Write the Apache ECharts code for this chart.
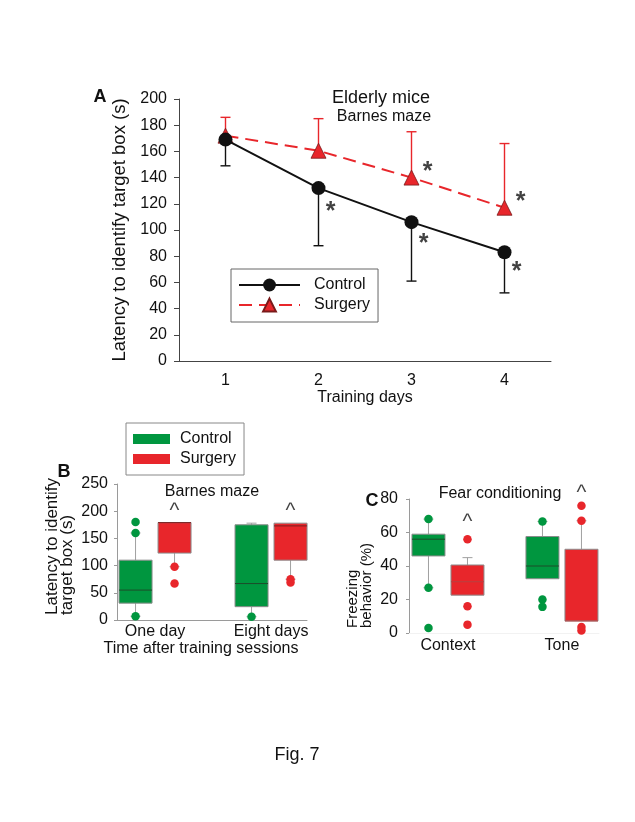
<!DOCTYPE html>
<html><head><meta charset="utf-8">
<script src="https://cdn.jsdelivr.net/npm/echarts@6/dist/echarts.min.js"></script>
<style>html,body{margin:0;padding:0;background:#fff}#c{width:635px;height:822px}</style>
</head><body><div id="c"></div>
<script>
const FONT = '"Liberation Sans", Arial, Helvetica, sans-serif';
const RED = '#e8262b', GREEN = '#00963f', INK = '#111';

// ---- Panel A: Barnes maze, training days ----
const trainingDays = ['1', '2', '3', '4'];
const controlMean = [169, 132, 106, 83];
const controlLower = [149, 88, 61, 52];
const surgeryMean = [172, 160.5, 140, 117];
const surgeryUpper = [186, 185, 175, 166];
const controlStars = [[1, 117], [2, 92], [3, 71]];
const surgeryStars = [[2, 147], [3, 124]];

// ---- Panel B: Barnes maze, time after training ----
const barnesGroups = ['One day', 'Eight days'];
// [group, lowWhisker, q1, median, q3, highWhisker]
const barnesControlBox = [[1, 7, 31, 55, 110, 160], [2, 6, 24.5, 67, 175, 178]];
const barnesSurgeryBox = [[1, 98, 123, 179, 179, 179], [2, 75, 110, 173, 178, 178]];
const barnesControlPts = [[1, 180], [1, 160], [1, 7], [2, 6]];
const barnesSurgeryPts = [[1, 98], [1, 67], [2, 75], [2, 69]];
const barnesCarets = [[1, 206], [2, 206]];

// ---- Panel C: Fear conditioning ----
const fearGroups = ['Context', 'Tone'];
const fearControlBox = [[1, 27, 46, 56, 59, 68], [2, 32.4, 32.4, 40, 57.6, 66.6]];
const fearSurgeryBox = [[1, 22.6, 22.6, 30.6, 40.6, 45], [2, 7.2, 7.2, 7.2, 50, 67]];
const fearControlPts = [[1, 68], [1, 27], [1, 3], [2, 66.6], [2, 20], [2, 15.6]];
const fearSurgeryPts = [[1, 56], [1, 16], [1, 5], [2, 76], [2, 67], [2, 3.6], [2, 1.5]];
const fearCarets = [[1, 68], [2, 85]];

const GROUP_OFFSET = 19.5; // px from group centre to each box centre
const A_PREFIX = 'A: ';    // panel A series ids (prefix hidden in its legend)

function errRender(color) {
  return function (params, api) {
    const i = api.value(0);
    const a = api.coord([i, api.value(1)]);
    const b = api.coord([i, api.value(2)]);
    const st = { stroke: color, lineWidth: 1.4 };
    return { type: 'group', children: [
      { type: 'line', shape: { x1: a[0], y1: a[1], x2: b[0], y2: b[1] }, style: st },
      { type: 'line', shape: { x1: b[0] - 5, y1: b[1], x2: b[0] + 5, y2: b[1] }, style: st }
    ] };
  };
}

function boxRender(offset, fill, medColor) {
  return function (params, api) {
    const pos = api.value(0);
    const cx = api.coord([pos, 0])[0] + offset;
    const y = v => api.coord([pos, v])[1];
    const lo = api.value(1), q1 = api.value(2), med = api.value(3), q3 = api.value(4), hi = api.value(5);
    const hw = 16.5, cw = 5;
    const ls = { stroke: '#a0a0a0', lineWidth: 1 };
    const ch = [];
    if (hi > q3) {
      ch.push({ type: 'line', shape: { x1: cx, y1: y(q3), x2: cx, y2: y(hi) }, style: ls });
      ch.push({ type: 'line', shape: { x1: cx - cw, y1: y(hi), x2: cx + cw, y2: y(hi) }, style: ls });
    }
    if (lo < q1) {
      ch.push({ type: 'line', shape: { x1: cx, y1: y(q1), x2: cx, y2: y(lo) }, style: ls });
      ch.push({ type: 'line', shape: { x1: cx - cw, y1: y(lo), x2: cx + cw, y2: y(lo) }, style: ls });
    }
    ch.push({ type: 'rect', shape: { x: cx - hw, y: y(q3), width: 2 * hw, height: y(q1) - y(q3) },
      style: { fill: fill, stroke: '#8c8c8c', lineWidth: 1 } });
    ch.push({ type: 'line', shape: { x1: cx - hw, y1: y(med), x2: cx + hw, y2: y(med) },
      style: { stroke: medColor, lineWidth: 1 } });
    return { type: 'group', children: ch };
  };
}

function boxSeries(name, data, gi, offset, fill, med) {
  return { name: name, type: 'custom', xAxisIndex: gi, yAxisIndex: gi, data: data,
    itemStyle: { color: fill },
    encode: { x: 0, y: [1, 2, 3, 4, 5] }, renderItem: boxRender(offset, fill, med), z: 2, silent: true };
}
function ptSeries(data, gi, offset, color) {
  return { type: 'scatter', xAxisIndex: gi, yAxisIndex: gi, data: data, symbol: 'circle', symbolSize: 8.5,
    symbolOffset: [offset, 0], itemStyle: { color: color, opacity: 1 }, z: 4, silent: true };
}
function textMarks(data, gi, text, offset, size, bold) {
  return { type: 'scatter', xAxisIndex: gi, yAxisIndex: gi, data: data, symbolSize: 1, clip: false,
    itemStyle: { color: 'rgba(0,0,0,0)' }, z: 5, silent: true,
    label: { show: true, formatter: text, position: 'inside', offset: offset, color: INK,
      fontFamily: FONT, fontSize: size, fontWeight: bold ? 'bold' : 'normal' } };
}

const greyAxis = { lineStyle: { color: '#9a9a9a', width: 1 } };
const lbl = { fontFamily: FONT, fontSize: 16, color: INK };

const option = {
  backgroundColor: '#fff',
  animation: false,
  textStyle: { fontFamily: FONT },
  grid: [
    { left: 179, top: 99, width: 372, height: 262 },
    { left: 117, top: 484, width: 190, height: 136 },
    { left: 409, top: 499, width: 190, height: 134 }
  ],
  legend: [
    { left: 231, top: 269, orient: 'vertical', itemWidth: 61, itemHeight: 16, itemGap: 4,
      padding: [8, 8, 9, 7], borderColor: '#666', borderWidth: 1, selectedMode: false,
      formatter: name => name.replace(A_PREFIX, ''),
      textStyle: { fontFamily: FONT, fontSize: 16, color: INK, padding: [0, 0, 0, 9] },
      data: [A_PREFIX + 'Control', A_PREFIX + 'Surgery'] },
    { left: 126, top: 423, orient: 'vertical', itemWidth: 37, itemHeight: 10, itemGap: 2,
      padding: [7, 8, 7, 7], borderColor: '#888', borderWidth: 1, selectedMode: false,
      icon: 'rect', itemStyle: { borderWidth: 0, decal: 'none' },
      textStyle: { fontFamily: FONT, fontSize: 16, color: INK, padding: [0, 0, 0, 5], lineHeight: 18 },
      data: ['Control', 'Surgery'] }
  ],
  xAxis: [
    { gridIndex: 0, type: 'category', data: trainingDays, boundaryGap: true,
      axisLine: { lineStyle: { color: '#444', width: 1 } },
      axisTick: { alignWithLabel: true, length: 5, lineStyle: { color: '#444' } },
      axisLabel: Object.assign({ margin: 12 }, lbl),
      name: 'Training days', nameLocation: 'middle', nameGap: 28, nameTextStyle: lbl },
    { gridIndex: 1, type: 'value', min: 0.672, max: 2.31, splitLine: { show: false },
      axisLine: greyAxis, axisTick: { show: false },
      axisLabel: Object.assign({ margin: 4, customValues: [1, 2],
        formatter: v => barnesGroups[Math.round(v) - 1] || '' }, lbl),
      name: 'Time after training sessions', nameLocation: 'middle', nameGap: 21,
      nameTextStyle: Object.assign({ padding: [0, 22, 0, 0] }, lbl) },
    { gridIndex: 2, type: 'value', min: 0.658, max: 2.325, splitLine: { show: false },
      axisLine: { lineStyle: { color: '#f2f2f2', width: 1 } }, axisTick: { show: false },
      axisLabel: Object.assign({ margin: 5, customValues: [1, 2],
        formatter: v => fearGroups[Math.round(v) - 1] || '' }, lbl) }
  ],
  yAxis: [
    { gridIndex: 0, type: 'value', min: 0, max: 200, interval: 20, splitLine: { show: false },
      axisLine: { show: true, lineStyle: { color: '#444', width: 1 } },
      axisTick: { show: true, length: 5, lineStyle: { color: '#444' } },
      axisLabel: Object.assign({ margin: 12 }, lbl),
      name: 'Latency to identify target box (s)', nameLocation: 'middle', nameGap: 41,
      nameTextStyle: { fontFamily: FONT, fontSize: 18.5, color: INK } },
    { gridIndex: 1, type: 'value', min: 0, max: 250, interval: 50, splitLine: { show: false },
      axisLine: Object.assign({ show: true }, greyAxis),
      axisTick: { show: true, length: 3, lineStyle: { color: '#9a9a9a' } },
      axisLabel: Object.assign({ margin: 9 }, lbl) },
    { gridIndex: 2, type: 'value', min: 0, max: 80, interval: 20, splitLine: { show: false },
      axisLine: Object.assign({ show: true }, greyAxis),
      axisTick: { show: true, length: 3, lineStyle: { color: '#9a9a9a' } },
      axisLabel: Object.assign({ margin: 11 }, lbl) }
  ],
  series: [
    boxSeries('Control', barnesControlBox, 1, -GROUP_OFFSET, GREEN, '#1c4d2a'),
    boxSeries('Surgery', barnesSurgeryBox, 1, GROUP_OFFSET, RED, '#7a1f1f'),
    ptSeries(barnesControlPts, 1, -GROUP_OFFSET, GREEN),
    ptSeries(barnesSurgeryPts, 1, GROUP_OFFSET, RED),
    textMarks(barnesCarets, 1, '^', [GROUP_OFFSET, 3], 21, false),

    boxSeries('Control', fearControlBox, 2, -GROUP_OFFSET, GREEN, '#1c4d2a'),
    boxSeries('Surgery', fearSurgeryBox, 2, GROUP_OFFSET, RED, '#b84040'),
    ptSeries(fearControlPts, 2, -GROUP_OFFSET, GREEN),
    ptSeries(fearSurgeryPts, 2, GROUP_OFFSET, RED),
    textMarks(fearCarets, 2, '^', [GROUP_OFFSET, 3], 21, false),

    { name: A_PREFIX + 'Control', type: 'line', xAxisIndex: 0, yAxisIndex: 0, data: controlMean,
      symbol: 'circle', symbolSize: 14, lineStyle: { color: INK, width: 2 },
      itemStyle: { color: INK }, z: 4, silent: true },
    { name: A_PREFIX + 'Surgery', type: 'line', xAxisIndex: 0, yAxisIndex: 0, data: surgeryMean,
      symbol: 'triangle', symbolSize: 15, lineStyle: { color: RED, width: 2, type: [13, 7] },
      itemStyle: { color: RED, borderColor: '#7a1a1a', borderWidth: 0.8 }, z: 3, silent: true },
    { type: 'custom', xAxisIndex: 0, yAxisIndex: 0, renderItem: errRender(INK), z: 1, silent: true,
      data: controlMean.map((m, i) => [i, m, controlLower[i]]), encode: { x: 0, y: [1, 2] } },
    { type: 'custom', xAxisIndex: 0, yAxisIndex: 0, renderItem: errRender(RED), z: 1, silent: true,
      data: surgeryMean.map((m, i) => [i, m, surgeryUpper[i]]), encode: { x: 0, y: [1, 2] } },
    textMarks(controlStars, 0, '*', [12, 4], 25, true),
    textMarks(surgeryStars, 0, '*', [16, 4], 25, true)
  ],
  graphic: [
    { type: 'text', x: 100, y: 97, style: { text: 'A', font: 'bold 18px ' + FONT, fill: INK, align: 'center', verticalAlign: 'middle' } },
    { type: 'text', x: 381, y: 98, style: { text: 'Elderly mice', font: '18px ' + FONT, fill: INK, align: 'center', verticalAlign: 'middle' } },
    { type: 'text', x: 384, y: 117, style: { text: 'Barnes maze', font: '16px ' + FONT, fill: INK, align: 'center', verticalAlign: 'middle' } },
    { type: 'text', x: 64, y: 472, style: { text: 'B', font: 'bold 18px ' + FONT, fill: INK, align: 'center', verticalAlign: 'middle' } },
    { type: 'text', x: 212, y: 492, style: { text: 'Barnes maze', font: '16px ' + FONT, fill: INK, align: 'center', verticalAlign: 'middle' } },
    { type: 'text', x: 45, y: 615, rotation: Math.PI / 2,
      style: { text: 'Latency to identify\ntarget box (s)', font: '17px ' + FONT, lineHeight: 15, fill: INK, align: 'left', verticalAlign: 'top' } },
    { type: 'text', x: 372, y: 501, style: { text: 'C', font: 'bold 18px ' + FONT, fill: INK, align: 'center', verticalAlign: 'middle' } },
    { type: 'text', x: 500, y: 494, style: { text: 'Fear conditioning', font: '16px ' + FONT, fill: INK, align: 'center', verticalAlign: 'middle' } },
    { type: 'text', x: 346, y: 628, rotation: Math.PI / 2,
      style: { text: 'Freezing\nbehavior (%)', font: '15px ' + FONT, lineHeight: 14, fill: INK, align: 'left', verticalAlign: 'top' } },
    { type: 'text', x: 297, y: 755, style: { text: 'Fig. 7', font: '18px ' + FONT, fill: INK, align: 'center', verticalAlign: 'middle' } }
  ]
};

const chart = echarts.init(document.getElementById('c'), null, { renderer: 'canvas' });
chart.setOption(option);
</script>
</body></html>
